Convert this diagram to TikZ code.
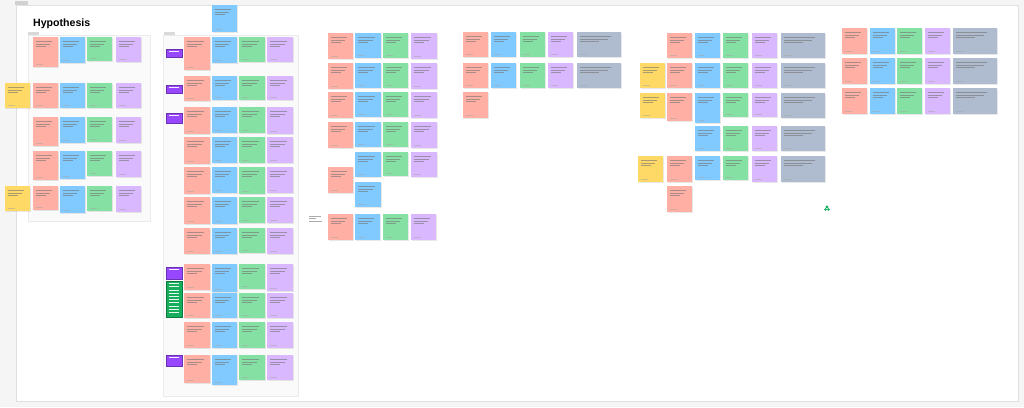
\documentclass[tikz,border=0pt]{standalone}
\usepackage{fontspec}
\newfontfamily\headfont{Liberation Sans}
\usetikzlibrary{shadows}

\definecolor{stred}{HTML}{FFAFA3}
\definecolor{stblue}{HTML}{80CAFF}
\definecolor{stgreen}{HTML}{85E0A3}
\definecolor{stpurple}{HTML}{D9B8FF}
\definecolor{styellow}{HTML}{FFD966}
\definecolor{stgray}{HTML}{AFBCCF}
\definecolor{tagpurple}{HTML}{9747FF}
\definecolor{taggreen}{HTML}{14AE5C}

% sticky note with three fake lines of text and a footer
\newcommand{\stick}[6]{%
  \node[note, fill=#2, minimum width=#5pt, minimum height=#6pt] (#1) at (#3,#4) {};
  \foreach \k/\l in {0/0.82,1/0.74,2/0.5} {
    \pgfmathsetmacro\yy{-4-2.8*\k}
    \pgfmathsetmacro\ll{(#5-5)*\l}
    \draw[txt] ([xshift=2.5pt,yshift=\yy pt]#1.north west) -- ++(\ll,0);
  }
  \draw[foot] ([xshift=2.5pt,yshift=3pt]#1.south west) -- ++(7,0);
}
% coloured label tag on the left of a row
\newcommand{\tagbox}[5]{%
  \node[tagnode, fill=#2, minimum height=#5pt] (#1) at (#3,#4) {};
  \draw[tagtxt] ([xshift=3pt,yshift=-2.5pt]#1.north west) -- ++(10,0);
}

\begin{document}
\begin{tikzpicture}[x=1pt,y=-1pt,
    note/.style={anchor=north west, inner sep=0pt, rectangle,
      drop shadow={shadow xshift=0.3pt, shadow yshift=-0.6pt, opacity=0.18}},
    txt/.style={draw=black!55, line width=0.45pt, opacity=0.6},
    foot/.style={draw=black!35, line width=0.4pt, opacity=0.5},
    tagnode/.style={anchor=north west, inner sep=0pt, rectangle,
      minimum width=16pt, draw=tagpurple!70!black, line width=0.3pt},
    tagtxt/.style={draw=white, line width=0.45pt, opacity=0.9},
    panel/.style={fill=black!2, draw=black!8, line width=0.3pt}]
  \useasboundingbox (0,0) rectangle (1024,407);

  % Board and sections.
  \fill[black!4] (0,0) rectangle (1024,407);
  \draw[fill=white, draw=black!12, line width=0.3pt] (16,5) rectangle (1018,401);
  \fill[black!18] (15,1) rectangle (28,4.5);
  \draw[panel] (28,35) rectangle (150,221);
  \draw[panel] (163,35) rectangle (298,396);
  \fill[black!15] (28,31.5) rectangle (39,34.5);
  \fill[black!15] (164,31.5) rectangle (175,34.5);

  \node[anchor=north west, inner sep=0pt,
    font=\headfont\bfseries\fontsize{10.6}{13}\selectfont] (title) at (33,19) {Hypothesis};

  % Group 1.
  \foreach \col/\x/\h [count=\i] in {stred/33/30,stblue/60/26,stgreen/87/24,stpurple/116/25}
    \stick{a1-\i}{\col}{\x}{37}{25}{\h};
  \stick{a2-0}{styellow}{5}{83}{25}{25}
  \foreach \col/\x/\h [count=\i] in {stred/33/25,stblue/60/25,stgreen/87/25,stpurple/116/25}
    \stick{a2-\i}{\col}{\x}{83}{25}{\h};
  \foreach \col/\x/\h [count=\i] in {stred/33/29,stblue/60/26,stgreen/87/25,stpurple/116/26}
    \stick{a3-\i}{\col}{\x}{117}{25}{\h};
  \foreach \col/\x/\h [count=\i] in {stred/33/29,stblue/60/28,stgreen/87/25,stpurple/116/26}
    \stick{a4-\i}{\col}{\x}{151}{25}{\h};
  \stick{a5-0}{styellow}{5}{186}{25}{25}
  \foreach \col/\x/\h [count=\i] in {stred/33/24,stblue/60/27,stgreen/87/25,stpurple/116/26}
    \stick{a5-\i}{\col}{\x}{186}{25}{\h};

  % Group 2.
  \stick{b0}{stblue}{212}{5}{25}{27}
  \foreach \y/\ha/\hb/\hc/\hd [count=\r] in
      {37/33/26/25/25, 76/25/24/24/24, 107/27/26/26/27, 137/27/26/26/26,
       167/27/26/27/26, 197/27/27/26/26, 228/26/26/25/26, 264/26/28/25/27,
       293/25/25/25/25, 322/26/26/26/26, 355/28/30/25/25} {
    \stick{b\r-1}{stred}{184}{\y}{26}{\ha}
    \stick{b\r-2}{stblue}{212}{\y}{25}{\hb}
    \stick{b\r-3}{stgreen}{239}{\y}{26}{\hc}
    \stick{b\r-4}{stpurple}{267}{\y}{26}{\hd}
  }
  \tagbox{t1}{tagpurple}{166}{49}{8}
  \tagbox{t2}{tagpurple}{166}{85}{8}
  \tagbox{t3}{tagpurple}{166}{113}{10}
  \tagbox{t4}{tagpurple}{166}{267}{12}
  \node[tagnode, fill=taggreen, draw=taggreen!70!black, minimum height=36pt] (t5) at (166,281) {};
  \foreach \k in {0,...,9}
    \draw[tagtxt] ([xshift=3pt,yshift=-2.5pt-\k*3.2pt]t5.north west) -- ++(10,0);
  \tagbox{t6}{tagpurple}{166}{355}{11}

  % Group 3.
  \foreach \y [count=\r] in {33,63,92,122} {
    \stick{c\r-1}{stred}{328}{\y}{25}{26}
    \stick{c\r-2}{stblue}{355}{\y}{26}{25}
    \stick{c\r-3}{stgreen}{383}{\y}{25}{25}
    \stick{c\r-4}{stpurple}{411}{\y}{26}{26}
  }
  \stick{c5-2}{stblue}{355}{152}{26}{25}
  \stick{c5-3}{stgreen}{383}{152}{25}{24}
  \stick{c5-4}{stpurple}{411}{152}{26}{25}
  \stick{c6-1}{stred}{328}{167}{25}{26}
  \stick{c6-2}{stblue}{355}{182}{26}{25}
  \foreach \col/\x [count=\i] in {stred/328,stblue/355,stgreen/383,stpurple/411}
    \stick{c7-\i}{\col}{\x}{214}{25}{26};
  % loose note
  \coordinate (memo) at (309,216);
  \draw[txt] (memo) -- ++(12,0);
  \draw[txt] ([yshift=-2.5pt]memo) -- ++(7,0);
  \draw[txt] ([yshift=-5pt]memo) -- ++(13,0);

  % Group 4.
  \foreach \y [count=\r] in {32,63} {
    \foreach \col/\x [count=\i] in {stred/463,stblue/491,stgreen/520,stpurple/548}
      \stick{d\r-\i}{\col}{\x}{\y}{25}{25};
    \stick{d\r-5}{stgray}{577}{\y}{44}{25}
  }
  \stick{d3-1}{stred}{463}{92}{25}{26}

  % Group 5.
  \foreach \col/\x [count=\i] in {stred/667,stblue/695,stgreen/723,stpurple/752}
    \stick{e1-\i}{\col}{\x}{33}{25}{25};
  \stick{e1-5}{stgray}{781}{33}{44}{25}
  \foreach \col/\x [count=\i] in {styellow/640,stred/667,stblue/695,stgreen/723,stpurple/752}
    \stick{e2-\i}{\col}{\x}{63}{25}{25};
  \stick{e2-6}{stgray}{781}{63}{44}{25}
  \foreach \col/\x/\h [count=\i] in {styellow/640/25,stred/667/28,stblue/695/30,stgreen/723/24,stpurple/752/24}
    \stick{e3-\i}{\col}{\x}{93}{25}{\h};
  \stick{e3-6}{stgray}{781}{93}{44}{25}
  \foreach \col/\x [count=\i] in {stblue/695,stgreen/723,stpurple/752}
    \stick{e4-\i}{\col}{\x}{126}{25}{25};
  \stick{e4-4}{stgray}{781}{126}{44}{25}
  \foreach \col/\x/\h [count=\i] in {styellow/638/26,stred/667/26,stblue/695/24,stgreen/723/24,stpurple/752/26}
    \stick{e5-\i}{\col}{\x}{156}{25}{\h};
  \stick{e5-6}{stgray}{781}{156}{44}{26}
  \stick{e6-1}{stred}{667}{186}{25}{26}
  \fill[taggreen] (827,207) circle (1.6pt);
  \fill[taggreen] (825.5,209.5) circle (1.4pt);
  \fill[taggreen] (828.5,209.5) circle (1.4pt);

  % Group 6.
  \foreach \y [count=\r] in {28,58,88} {
    \foreach \col/\x [count=\i] in {stred/842,stblue/870,stgreen/897,stpurple/925}
      \stick{f\r-\i}{\col}{\x}{\y}{25}{26};
    \stick{f\r-5}{stgray}{953}{\y}{44}{26}
  }
\end{tikzpicture}
\end{document}
